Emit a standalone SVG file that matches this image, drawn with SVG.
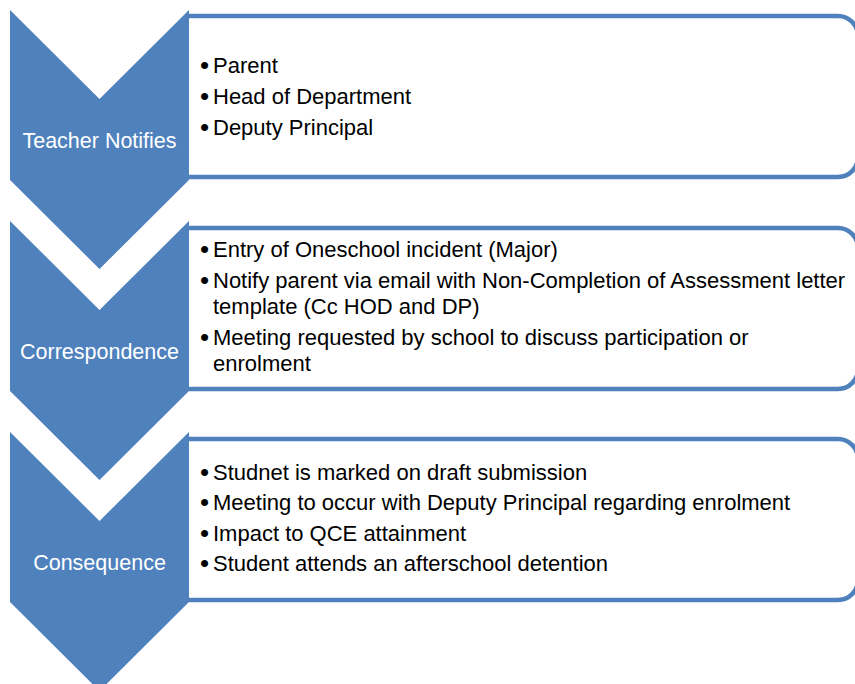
<svg xmlns="http://www.w3.org/2000/svg" width="855" height="684" viewBox="0 0 855 684">
<style>
.chev{fill:#4F81BD;stroke:none}
.box{fill:#FFFFFF;stroke:#4F81BD;stroke-width:4.5;stroke-linecap:butt}
.lbl{font-family:"Liberation Sans",Arial,sans-serif;font-size:21.5px;fill:#FFFFFF;text-anchor:middle}
.txt{font-family:"Liberation Sans",Arial,sans-serif;font-size:22px;fill:#000000}
.bul{font-family:"Liberation Sans",Arial,sans-serif;font-size:26px;fill:#000000}
</style>
<rect x="0" y="0" width="855" height="684" fill="#FFFFFF"/>
<g id="connectors"></g>
<g id="box1">
<path class="box" d="M189,16 H838 A20,20 0 0 1 858,36 V157 A20,20 0 0 1 838,177 H189"/>
<text class="bul" x="200" y="73.5">•</text><text class="txt" x="213" y="72.5">Parent</text>
<text class="bul" x="200" y="105">•</text><text class="txt" x="213" y="104">Head of Department</text>
<text class="bul" x="200" y="136">•</text><text class="txt" x="213" y="135">Deputy Principal</text>
</g>
<g id="box2">
<path class="box" d="M189,228 H838 A20,20 0 0 1 858,248 V369 A20,20 0 0 1 838,389 H189"/>
<text class="bul" x="200" y="258">•</text><text class="txt" x="213" y="257">Entry of Oneschool incident (Major)</text>
<text class="bul" x="200" y="288.5">•</text><text class="txt" x="213" y="287.5">Notify parent via email with Non-Completion of Assessment letter</text>
<text class="txt" x="213" y="314">template (Cc HOD and DP)</text>
<text class="bul" x="200" y="346">•</text><text class="txt" x="213" y="345">Meeting requested by school to discuss participation or</text>
<text class="txt" x="213" y="371">enrolment</text>
</g>
<g id="box3">
<path class="box" d="M189,439 H838 A20,20 0 0 1 858,459 V580 A20,20 0 0 1 838,600 H189"/>
<text class="bul" x="200" y="480.5">•</text><text class="txt" x="213" y="479.5">Studnet is marked on draft submission</text>
<text class="bul" x="200" y="511">•</text><text class="txt" x="213" y="510">Meeting to occur with Deputy Principal regarding enrolment</text>
<text class="bul" x="200" y="541.5">•</text><text class="txt" x="213" y="540.5">Impact to QCE attainment</text>
<text class="bul" x="200" y="572">•</text><text class="txt" x="213" y="571">Student attends an afterschool detention</text>
</g>
<g id="chevron1">
<polygon class="chev" points="10,10 99.5,99 189,10 189,180 99.5,269 10,180"/>
<text class="lbl" x="99.5" y="148">Teacher Notifies</text>
</g>
<g id="chevron2">
<polygon class="chev" points="10,221 99.5,310 189,221 189,391 99.5,480 10,391"/>
<text class="lbl" x="99.5" y="358.5">Correspondence</text>
</g>
<g id="chevron3">
<polygon class="chev" points="10,432 99.5,521 189,432 189,602 99.5,691 10,602"/>
<text class="lbl" x="99.5" y="570">Consequence</text>
</g>
</svg>
